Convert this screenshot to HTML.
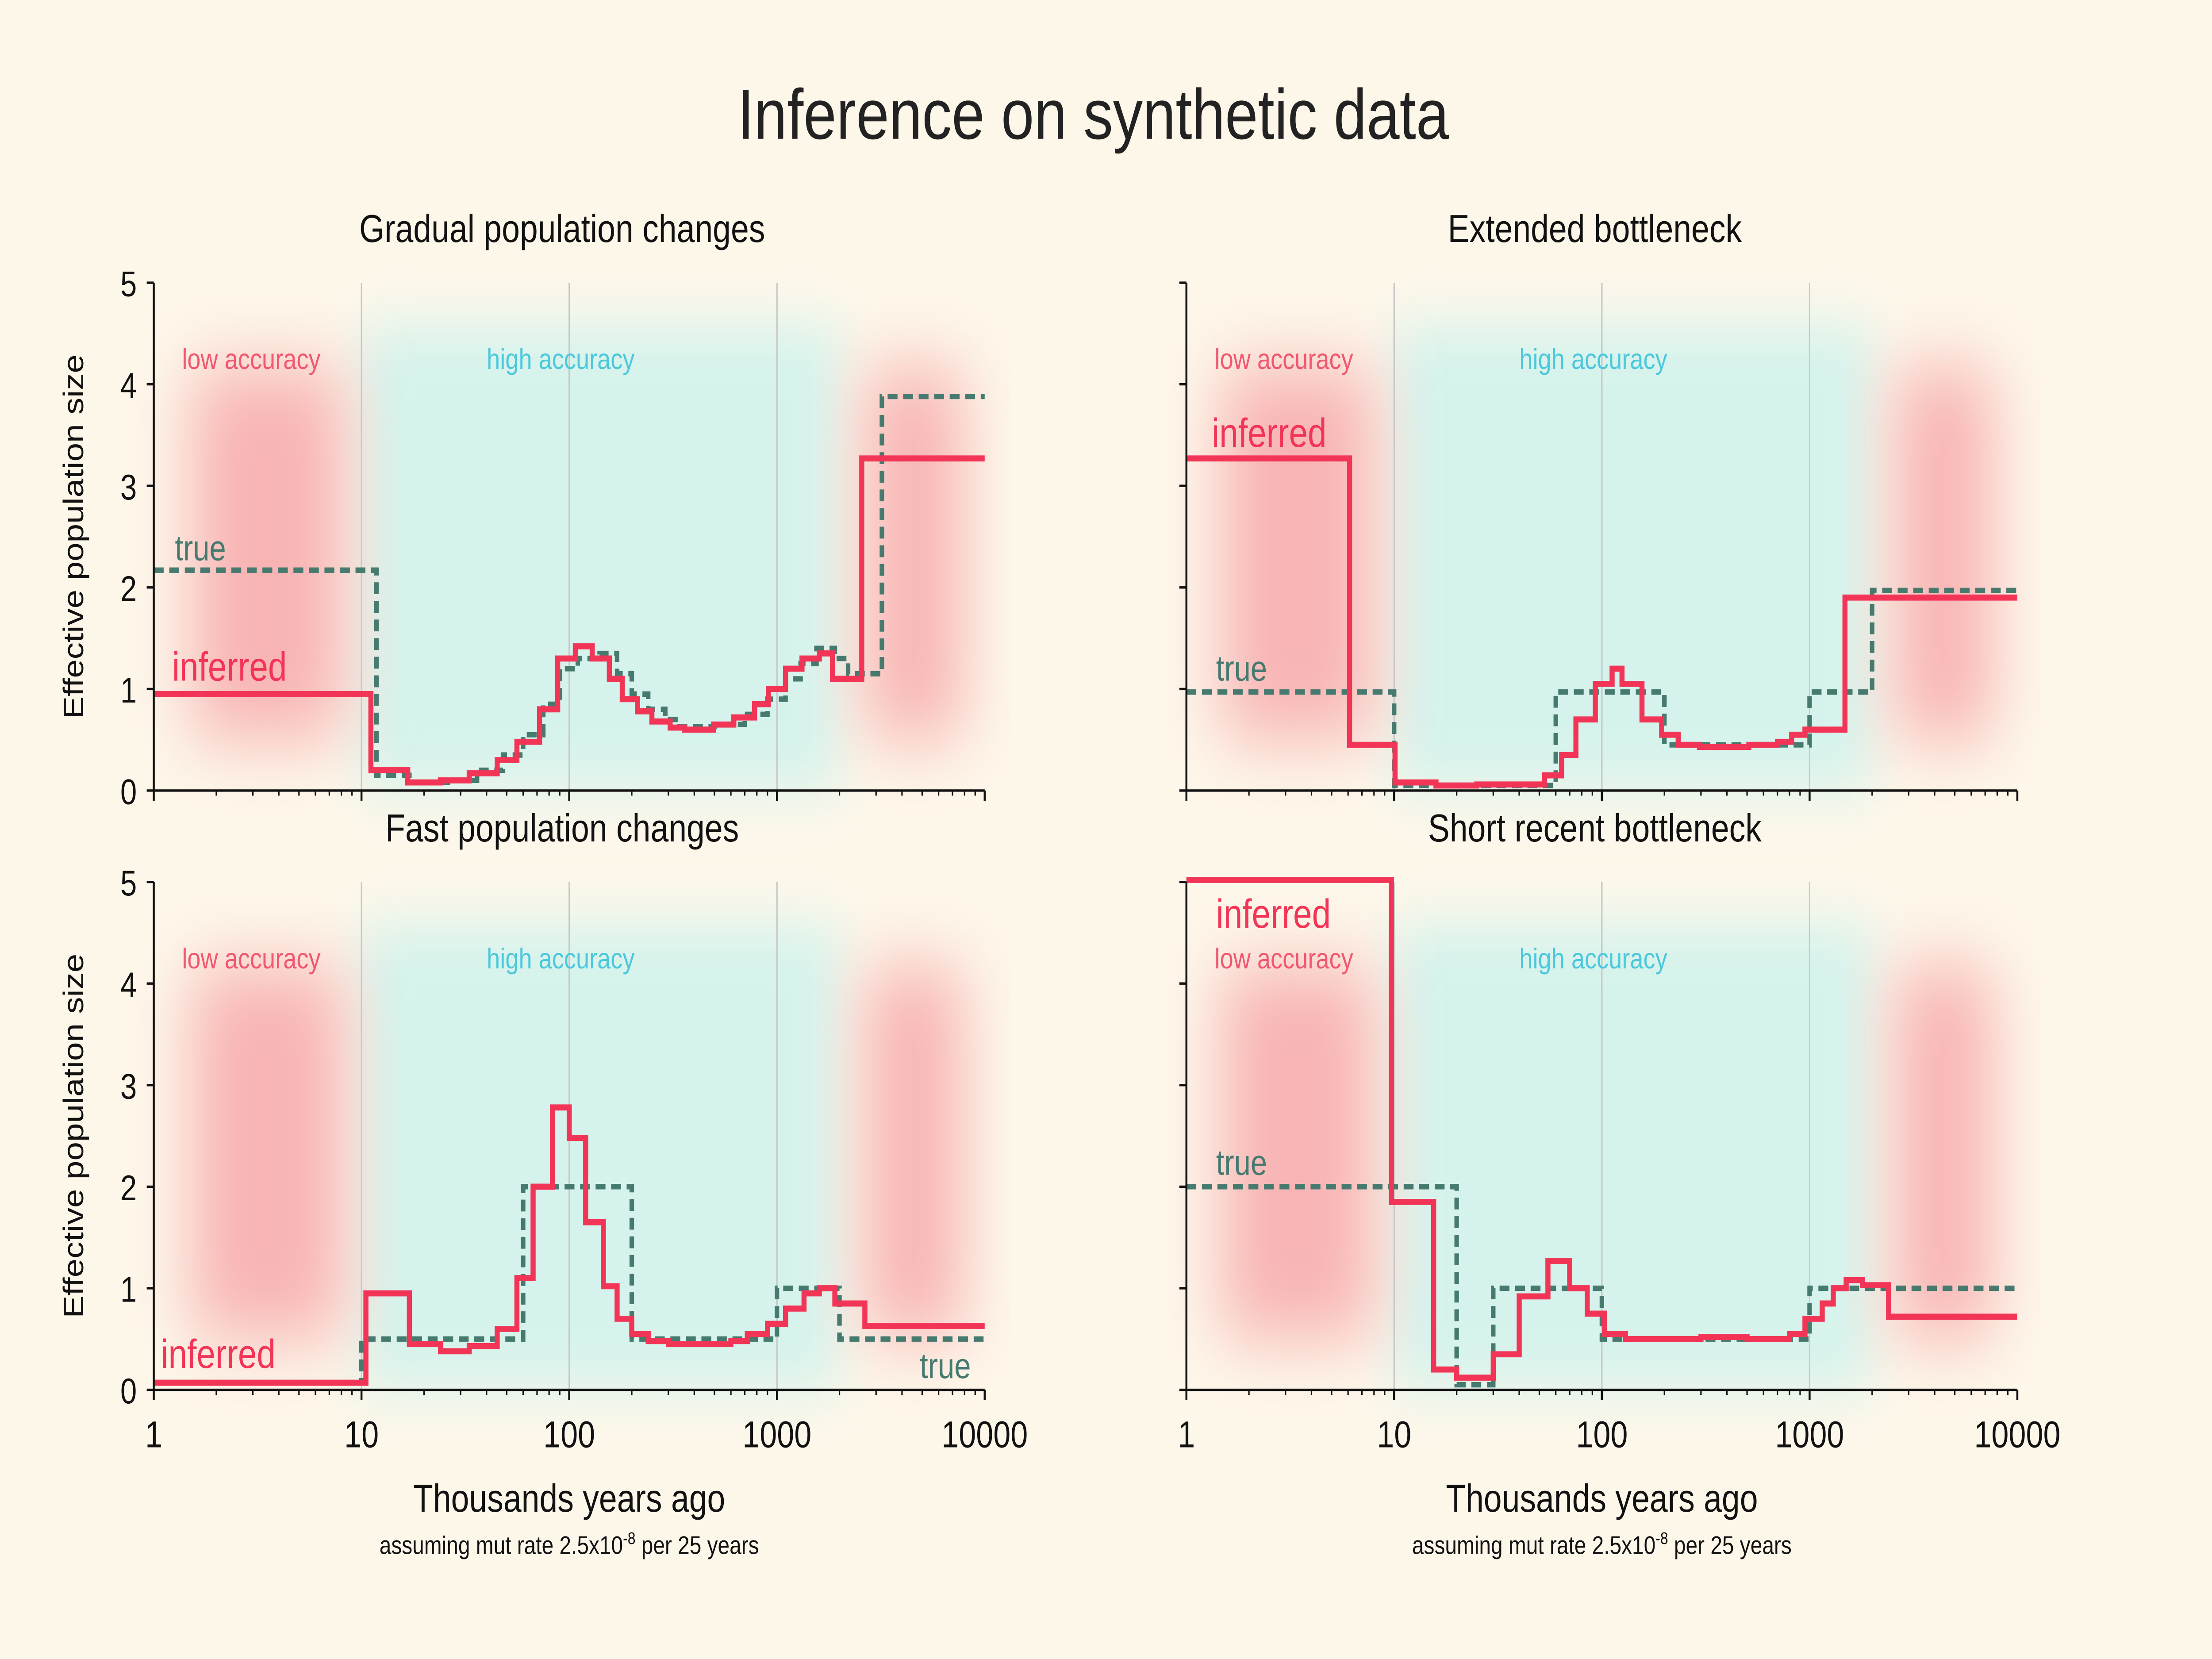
<!DOCTYPE html>
<html><head><meta charset="utf-8">
<style>
html,body{margin:0;padding:0;background:#fdf7ea;overflow:hidden;width:100%;height:100%;}
svg{display:block;width:100vw;height:100vh;}
text{font-family:"Liberation Sans",sans-serif;}
</style></head>
<body>
<svg id="fig" viewBox="0 0 1568 980" preserveAspectRatio="none" xmlns="http://www.w3.org/2000/svg">
<defs>
<filter id="blur" x="-50%" y="-50%" width="200%" height="200%"><feGaussianBlur stdDeviation="16"/></filter>
<filter id="blurR" x="-50%" y="-50%" width="200%" height="200%"><feGaussianBlur stdDeviation="22"/></filter>
</defs>
<rect width="1568" height="980" fill="#fdf7ea"/>
<text x="775" y="82" font-size="42" text-anchor="middle" fill="#222">Inference on synthetic data</text>
</svg>
<script>
// ---- data ----
const p1TrueEdges=[1,11.8,17,26,36,48,60,75,90,110,140,170,200,240,290,340,500,700,900,1100,1300,1550,1900,2200,3200,10000];
const p1TrueVals=[2.17,0.15,0.08,0.1,0.2,0.35,0.55,0.85,1.2,1.3,1.35,1.15,0.95,0.8,0.7,0.63,0.65,0.75,0.9,1.1,1.25,1.4,1.3,1.15,3.88];
const p1InfEdges=[1,11.1,16.7,24,33,45,56,72,88,107,129,156,180,213,250,306,358,495,620,780,910,1100,1320,1600,1850,2560,10000];
const p1InfVals=[0.95,0.2,0.08,0.1,0.17,0.3,0.48,0.8,1.3,1.42,1.3,1.1,0.9,0.78,0.68,0.62,0.6,0.65,0.72,0.85,1.0,1.2,1.3,1.35,1.1,3.27];
const p2TrueEdges=[1,10,60,200,1000,2000,10000];
const p2TrueVals=[0.97,0.05,0.97,0.45,0.97,1.97];
const p2InfEdges=[1,6.1,10.1,15.9,25,39,53,64,75,93,112,125,156,194,233,295,510,700,820,950,1480,10000];
const p2InfVals=[3.27,0.45,0.08,0.05,0.06,0.06,0.15,0.35,0.7,1.05,1.2,1.05,0.7,0.55,0.45,0.43,0.45,0.48,0.55,0.6,1.9];
const p3TrueEdges=[1,10,60,200,1000,2000,10000];
const p3TrueVals=[0.07,0.5,2.0,0.5,1.0,0.5];
const p3InfEdges=[1,10.5,17,24,33,45,56,67,83,100,120,146,170,200,240,300,600,720,900,1100,1350,1600,1900,2650,10000];
const p3InfVals=[0.07,0.95,0.45,0.38,0.43,0.6,1.1,2.0,2.78,2.48,1.65,1.02,0.7,0.55,0.48,0.45,0.48,0.55,0.65,0.8,0.95,1.0,0.85,0.63];
const p4TrueEdges=[1,20,30,100,1000,10000];
const p4TrueVals=[2.0,0.05,1.0,0.5,1.0];
const p4InfEdges=[1,9.7,15.5,20,30,40,55,70,85,103,130,300,500,800,950,1150,1300,1500,1800,2400,10000];
const p4InfVals=[5.02,1.85,0.2,0.12,0.35,0.92,1.27,1.0,0.75,0.55,0.5,0.52,0.5,0.55,0.7,0.85,1.0,1.08,1.03,0.72];
const yTicks=[0,1,2,3,4,5];
const xTicks=[1,10,100,1000,10000];
const xTickLabels=["1","10","100","1000","10000"];

const NS="http://www.w3.org/2000/svg";
const svg=document.getElementById('fig');
function mk(tag,attrs,parent){const e=document.createElementNS(NS,tag);for(const k in attrs)e.setAttribute(k,attrs[k]);(parent||svg).appendChild(e);return e;}

const panels=[
 {x0:109,y0:467,title:"Gradual population changes",te:p1TrueEdges,tv:p1TrueVals,ie:p1InfEdges,iv:p1InfVals,xl:false,yl:true,
  redL:[118,262],redR:[595,700],trueLab:[124,331],infLab:[122,402],name:"gradual"},
 {x0:841,y0:467,title:"Extended bottleneck",te:p2TrueEdges,tv:p2TrueVals,ie:p2InfEdges,iv:p2InfVals,xl:false,yl:false,
  redL:[848,992],redR:[1325,1430],trueLab:[862,402],infLab:[859,264],name:"extended"},
 {x0:109,y0:821,title:"Fast population changes",te:p3TrueEdges,tv:p3TrueVals,ie:p3InfEdges,iv:p3InfVals,xl:true,yl:true,
  redL:[118,262],redR:[595,700],trueLab:[652,814],infLab:[114,808],name:"fast"},
 {x0:841,y0:821,title:"Short recent bottleneck",te:p4TrueEdges,tv:p4TrueVals,ie:p4InfEdges,iv:p4InfVals,xl:true,yl:false,
  redL:[848,992],redR:[1325,1430],trueLab:[862,694],infLab:[862,548],name:"short"}
];
const W=589, H=300;

panels.forEach(p=>{
  const X=t=>p.x0+W/4*Math.log10(t);
  const Y=v=>p.y0-v*H/5;
  const g=mk('g',{});
  
  
  const teal=mk('rect',{x:X(10),y:p.y0-H+25,width:X(2000)-X(10),height:H-25,fill:'#d5f3ec',filter:'url(#blur)'},g);
  
  
  [p.redL,p.redR].forEach((r,i)=>{
    const rr=mk('rect',{x:r[0]+18,y:p.y0-H+50,width:r[1]-r[0]-36,height:H-80,fill:'#f8b4b4',filter:'url(#blurR)'},g);
    
    
  });
  [10,100,1000].forEach(t=>{
    const l=mk('line',{x1:X(t),x2:X(t),y1:p.y0-H,y2:p.y0,stroke:'#c8c8c8','stroke-width':1},g);
    
    
  });
  const la=mk('text',{x:p.x0+20,y:p.y0-H+51,'font-size':17,fill:'#f0586f'},g);la.textContent='low accuracy';
  
  
  const ha=mk('text',{x:p.x0+236,y:p.y0-H+51,'font-size':17,fill:'#4cc8dc'},g);ha.textContent='high accuracy';
  
  
  function stepPath(edges,vals){let d='M'+X(edges[0])+','+Y(vals[0]);for(let i=0;i<vals.length;i++){if(i>0)d+=' L'+X(edges[i])+','+Y(vals[i]);d+=' L'+X(edges[i+1])+','+Y(vals[i]);}return d;}
  const tp=mk('path',{d:stepPath(p.te,p.tv),fill:'none',stroke:'#467a6f','stroke-width':3.2,'stroke-dasharray':'7,4'},g);
  
  
  const ip=mk('path',{d:stepPath(p.ie,p.iv),fill:'none',stroke:'#f23557','stroke-width':3.6},g);
  
  
  const tl=mk('text',{x:p.trueLab[0],y:p.trueLab[1],'font-size':21,fill:'#467a6f'},g);tl.textContent='true';
  
  
  const il=mk('text',{x:p.infLab[0],y:p.infLab[1],'font-size':24,fill:'#f23557'},g);il.textContent='inferred';
  
  
  const ax=mk('path',{d:'M'+p.x0+','+(p.y0-H)+' L'+p.x0+','+p.y0+' L'+(p.x0+W)+','+p.y0,fill:'none',stroke:'#111','stroke-width':1.4},g);
  
  
  yTicks.forEach(v=>{
    const t=mk('line',{x1:p.x0-5,x2:p.x0,y1:Y(v),y2:Y(v),stroke:'#111','stroke-width':1.4},g);
    
    
    if(p.yl){const tx=mk('text',{x:p.x0-12,y:Y(v)+8,'font-size':21,'text-anchor':'end',fill:'#111'},g);tx.textContent=String(v);
      
      }
  });
  for(let d=0;d<4;d++){for(let m=2;m<=9;m++){const t=Math.pow(10,d)*m;
    const tk=mk('line',{x1:X(t),x2:X(t),y1:p.y0,y2:p.y0+3,stroke:'#111','stroke-width':1},g);
    
    }}
  xTicks.forEach((t,i)=>{
    const tk=mk('line',{x1:X(t),x2:X(t),y1:p.y0,y2:p.y0+6,stroke:'#111','stroke-width':1.4},g);
    
    
    if(p.xl){const tx=mk('text',{x:X(t),y:p.y0+34,'font-size':22,'text-anchor':'middle',fill:'#111'},g);tx.textContent=xTickLabels[i];
      
      }
  });
  const ti=mk('text',{x:p.x0+W/2-5,y:p.y0-H-24,'font-size':23,'text-anchor':'middle',fill:'#111'},g);ti.textContent=p.title;
  
  
  if(p.yl){const yl=mk('text',{x:0,y:0,'font-size':20,'text-anchor':'middle',fill:'#111',transform:'translate('+(p.x0-50)+','+(p.y0-H/2)+') rotate(-90)'},g);yl.textContent='Effective population size';
    
    }
  if(p.xl){
    const xl=mk('text',{x:p.x0+W/2,y:893,'font-size':23,'text-anchor':'middle',fill:'#111'},g);xl.textContent='Thousands years ago';
    
    
    const sub=mk('text',{x:p.x0+W/2,y:918,'font-size':15,'text-anchor':'middle',fill:'#111'},g);
    sub.innerHTML='assuming mut rate 2.5x10<tspan dy="-6" font-size="10">-8</tspan><tspan dy="6"> per 25 years</tspan>';
    
    
  }
});
</script>
</body></html>
